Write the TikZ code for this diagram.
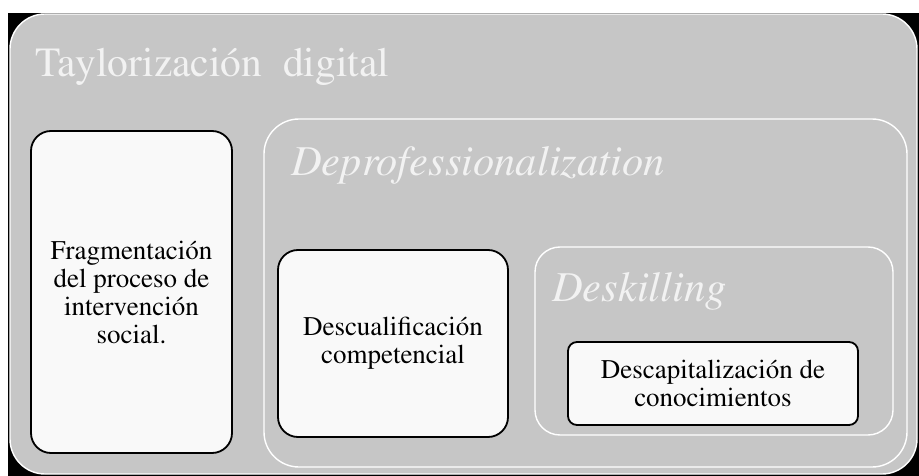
\documentclass[tikz,border=0pt]{standalone}
\usepackage[T1]{fontenc}
\renewcommand{\rmdefault}{ptm}
\definecolor{panelgrey}{HTML}{C6C6C6}
\definecolor{boxwhite}{HTML}{F9F9F9}
\definecolor{headwhite}{HTML}{F2F2F2}

\begin{document}
\begin{tikzpicture}[x=1pt,y=-1pt,
    darkbox/.style={draw=black,line width=1.8pt,fill=boxwhite,rounded corners=20pt,
      align=center,inner sep=0pt,font=\fontsize{27}{28}\selectfont},
    lightframe/.style={draw=white,line width=1.4pt,inner sep=0pt},
    heading/.style={anchor=base west,inner sep=0pt,text=headwhite}]
      \useasboundingbox (0,0) rectangle (919,476);

      % outer panel
      \fill[black] (8,13) rectangle (919,476);
      \node[lightframe,fill=panelgrey,rounded corners=35pt,minimum width=907pt,minimum height=460pt] (panel) at (463.5,244) {};
      \node[heading,font=\fontsize{41.5}{48}\selectfont] (taylor) at (35,77) {Taylorizaci\'on\ \ digital};

      \node[darkbox,minimum width=201pt,minimum height=322pt] (frag) at (131.5,292)
        {Fragmentaci\'on\\del proceso de\\intervenci\'on\\social.};

      % nested frames
      \node[lightframe,rounded corners=35pt,minimum width=643pt,minimum height=348pt] (deprof) at (585.5,293) {};
      \node[heading,font=\fontsize{42.5}{48}\selectfont\itshape] (deproflabel) at (291,176) {Deprofessionalization};

      \node[darkbox,minimum width=230pt,minimum height=187pt] (descual) at (393,343.5)
        {Descualificaci\'on\\competencial};

      \node[lightframe,rounded corners=25pt,minimum width=358pt,minimum height=188pt] (deskill) at (714,341) {};
      \node[heading,font=\fontsize{42.5}{48}\selectfont\itshape] (deskilllabel) at (552,301) {Deskilling};

      \node[darkbox,rounded corners=9pt,minimum width=290pt,minimum height=83pt] (descap) at (713,383.5)
        {Descapitalizaci\'on de\\conocimientos};
    \end{tikzpicture}
\end{document}
